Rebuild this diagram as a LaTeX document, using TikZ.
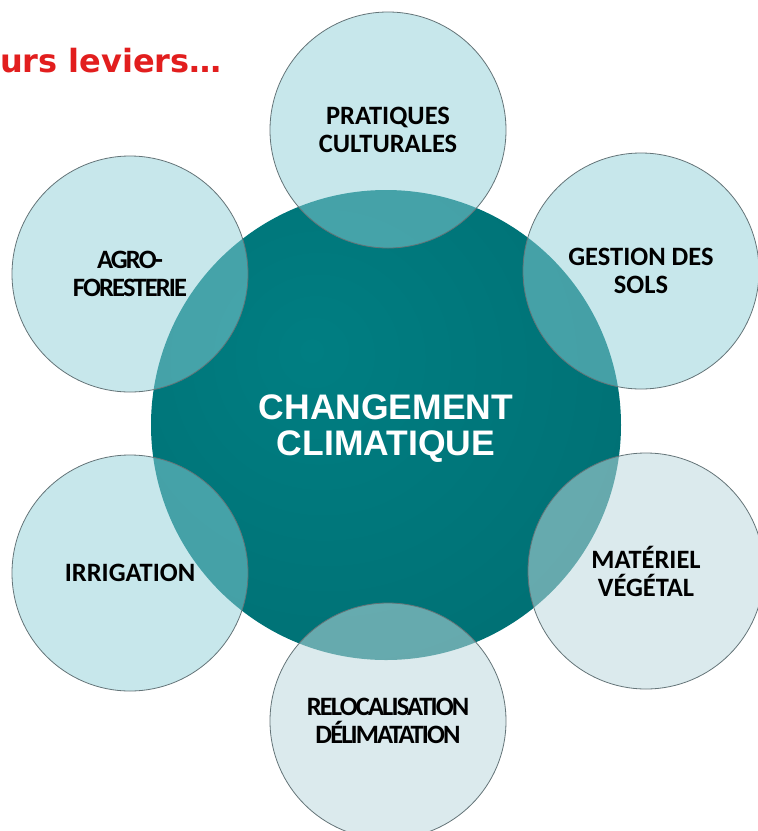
\documentclass[tikz,border=0pt]{standalone}
\usepackage{fontspec}
\setmainfont{Carlito}
\newfontfamily\arialfont{Liberation Sans}
\newfontfamily\verdfont{DejaVu Sans}
\definecolor{tealA}{RGB}{0,126,130}
\definecolor{tealB}{RGB}{0,114,118}
\definecolor{tealC}{RGB}{0,94,98}
\definecolor{satfill}{RGB}{142,208,216}
\definecolor{satfillB}{RGB}{190,218,222}
\definecolor{satedge}{RGB}{100,116,120}
\definecolor{titlered}{RGB}{226,30,30}
\pgfdeclareradialshading{tealrad}{\pgfpoint{-8bp}{8bp}}{color(0bp)=(tealA); color(30bp)=(tealB); color(62bp)=(tealC); color(100bp)=(tealC)}
\tikzset{
  sat/.style={circle, minimum size=236pt, inner sep=0pt, draw=satedge, line width=0.8pt,
    fill=satfill, fill opacity=0.49, draw opacity=1, text opacity=1, align=center, text=black,
    font=\fontsize{26.5}{28}\selectfont\bfseries},
  satpale/.style={sat, fill=satfillB, fill opacity=0.54},
  core/.style={circle, minimum size=470pt, inner sep=0pt, shade, shading=tealrad,
    text=white, align=center, font=\arialfont\fontsize{35.5}{36.5}\selectfont\bfseries},
  titletext/.style={anchor=base east, inner sep=0pt, text=titlered,
    font=\verdfont\fontsize{32}{36}\selectfont\bfseries},
}
\newcommand{\condensed}{\addfontfeatures{LetterSpace=-7}}
\begin{document}
\begin{tikzpicture}[x=1pt,y=-1pt]
  \clip (0,0) rectangle (758,831);
  \fill[white] (0,0) rectangle (758,831);
  \node[titletext] (title) at (222,72) {urs leviers…};
  \node[core] (core) at (386,425) {\rule{0pt}{32pt}CHANGEMENT\\CLIMATIQUE};
  \node[sat] (pratiques) at (388,130) {PRATIQUES\\CULTURALES};
  \node[sat] (gestion) at (641,271) {GESTION DES\\SOLS};
  \node[satpale] (materiel) at (646,571) {MATÉRIEL\\VÉGÉTAL};
  \node[satpale] (reloc) at (388,721) {\condensed RELOCALISATION\\\condensed DÉLIMATATION};
  \node[sat] (irrigation) at (130,573) {IRRIGATION};
  \node[sat] (agro) at (130,274) {\condensed AGRO-\\\condensed FORESTERIE};
\end{tikzpicture}
\end{document}
